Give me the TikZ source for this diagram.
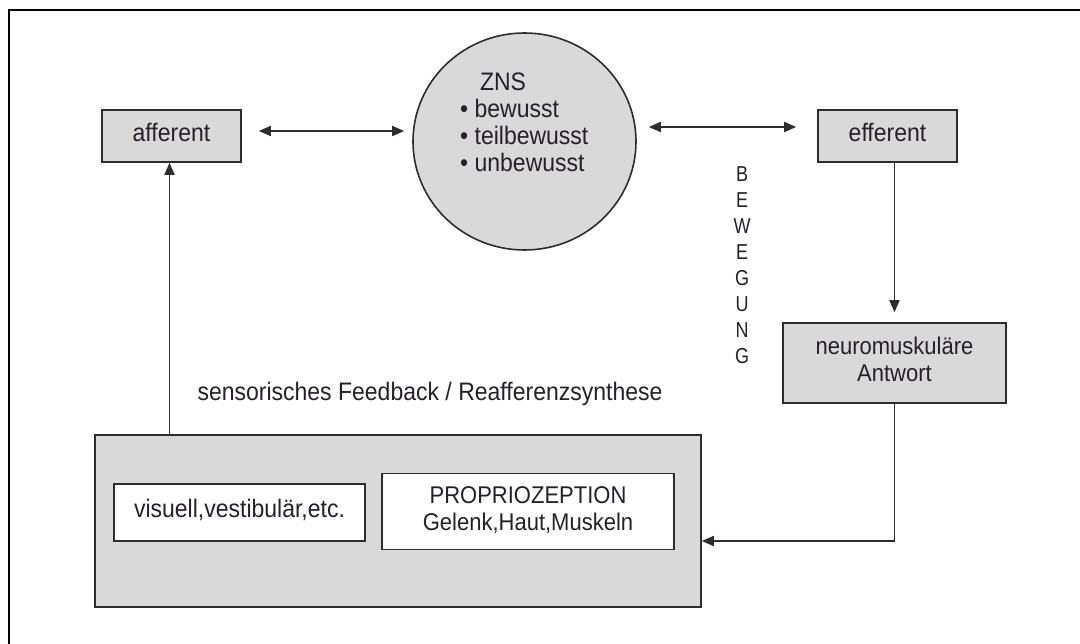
\documentclass[tikz,border=0pt]{standalone}
\usepackage{fontspec}
\setmainfont{Liberation Sans}
\usepackage{graphicx}
\usetikzlibrary{shapes.geometric,arrows.meta,calc}
\definecolor{boxgray}{RGB}{217,217,217}
\definecolor{ink}{RGB}{38,32,42}
\definecolor{edgec}{RGB}{45,45,45}
\newcommand{\stx}[2][1.1]{\scalebox{1}[#1]{\begin{tabular}{@{}c@{}}#2\end{tabular}}}
\tikzset{
  gbox/.style={draw=edgec, line width=1.6pt, fill=boxgray, inner sep=0pt, rectangle},
  wbox/.style={draw=edgec, line width=1.6pt, fill=white, inner sep=0pt, rectangle},
  conn/.style={draw=edgec, line width=1.6pt},
  tip/.style={-{Triangle[length=12pt,width=10pt]}},
  dtip/.style={{Triangle[length=12pt,width=10pt]}-{Triangle[length=12pt,width=10pt]}},
  lbl/.style={inner sep=0pt}
}
\begin{document}
\begin{tikzpicture}[x=1pt,y=-1pt,font=\fontsize{23}{24.5}\selectfont,text=ink]
\useasboundingbox (0,0) rectangle (1080,644);
% frame (top and left only)
\draw[black,line width=1.8pt] (8.8,650) -- (8.8,10.2) -- (1090,10.2);

% boxes
\node[gbox,minimum width=139pt,minimum height=52pt] (aff) at (171.5,136) {\stx{afferent}};
\node[gbox,minimum width=139pt,minimum height=52pt] (eff) at (887.5,136) {\stx{efferent}};
\node[draw=edgec,line width=1.6pt,fill=boxgray,ellipse,inner sep=0pt,minimum width=223pt,minimum height=217pt] (zns) at (524.5,141.5) {};
\node[lbl] (znst) at (503,85) {\stx{ZNS}};
\node[lbl,anchor=west] (znsl) at (460,139) {\scalebox{1}[1.1]{\begin{tabular}{@{}l@{}}• bewusst\\• teilbewusst\\• unbewusst\end{tabular}}};
\node[gbox,minimum width=223pt,minimum height=80pt,font=\fontsize{22}{24.5}\selectfont] (neuro) at (894.5,363) {\stx{neuromuskuläre\\Antwort}};
\node[lbl,font=\fontsize{18}{21.6}\selectfont] (bew) at (742,267.5) {\stx[1.2]{B\\E\\W\\E\\G\\U\\N\\G}};
\node[lbl] (sens) at (430,395) {\stx{sensorisches Feedback / Reafferenzsynthese}};
\node[gbox,minimum width=606pt,minimum height=172pt] (big) at (398,521) {};
\node[wbox,minimum width=251pt,minimum height=57pt] (vis) at (239.5,512.5) {\stx{visuell,vestibulär,etc.}};
\node[wbox,minimum width=291.5pt,minimum height=76pt,font=\fontsize{22}{24.5}\selectfont] (prop) at (528,511.5) {\stx{PROPRIOZEPTION\\Gelenk,Haut,Muskeln}};

% connectors
\path ([yshift=5pt]aff.east) coordinate (a1);
\draw[conn,dtip,shorten <=17pt,shorten >=8pt] (a1) -- (a1 -| zns.west);
\path ([yshift=9pt]eff.west) coordinate (e1);
\draw[conn,dtip,shorten <=21pt,shorten >=12pt] (e1) -- (e1 -| zns.east);
\draw[conn,tip,shorten >=10pt] (neuro.north |- eff.south) -- (neuro.north);
\coordinate (fbin) at ([yshift=-20pt]big.east);
\draw[conn,tip] (neuro.south) |- (fbin);
\draw[conn,tip] ([xshift=-2pt]aff.south |- big.north) -- ([xshift=-2pt]aff.south);
\end{tikzpicture}
\end{document}
